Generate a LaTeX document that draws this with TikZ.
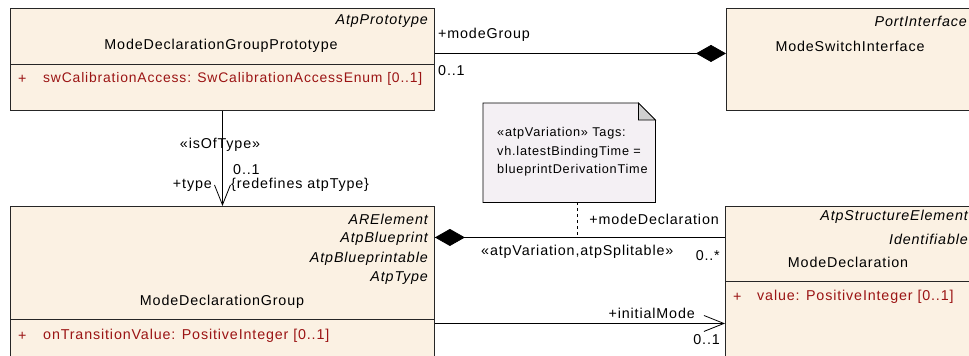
\documentclass[tikz,border=0pt]{standalone}
\usepackage{fontspec}
\setmainfont{Liberation Sans}[LetterSpace=6]
\usetikzlibrary{arrows.meta}

\definecolor{classfill}{RGB}{251,241,227}
\definecolor{notefill}{RGB}{244,240,244}
\definecolor{foldgray}{RGB}{208,208,208}
\definecolor{attrred}{RGB}{155,20,20}

\begin{document}
\begin{tikzpicture}[x=1pt,y=-1pt,
  font=\fontsize{14.3}{16}\selectfont,
  classbox/.style={draw=black!85, fill=classfill, line width=0.9pt, anchor=north west, inner sep=0pt},
  stereo/.style={font=\fontsize{14.3}{16}\selectfont\itshape, anchor=east, inner sep=0pt},
  attr/.style={text=attrred, anchor=west, inner sep=0pt},
  lbl/.style={inner sep=0pt},
  assoc/.style={line width=0.8pt},
  openhead/.style={-{Straight Barb[length=20pt,width=16pt,line width=0.8pt]}},
  comphead/.style={-{Diamond[length=30pt,width=17pt]}}]
  \useasboundingbox (0,0) rectangle (969,356);

  % classes
  \node[classbox, minimum width=424pt, minimum height=102pt] (mdgp) at (10,8) {};
  \draw[line width=0.9pt, draw=black!85] (mdgp.west |- 0,64) -- (mdgp.east |- 0,64);
  \node[stereo] (mdgp-st) at (428,21) {AtpPrototype};
  \node[lbl] (mdgp-name) at (221,46) {ModeDeclarationGroupPrototype};
  \node[attr] (mdgp-plus) at (18,79) {+};
  \node[attr, font=\fontsize{13.9}{16}\selectfont] (mdgp-attr) at (43,79) {swCalibrationAccess: SwCalibrationAccessEnum [0..1]};

  \node[classbox, minimum width=250pt, minimum height=102pt] (msi) at (726,8) {};
  \node[stereo] (msi-st) at (967,21) {PortInterface};
  \node[lbl] (msi-name) at (850,46) {ModeSwitchInterface};

  \node[classbox, minimum width=424pt, minimum height=160pt] (mdg) at (10,206) {};
  \draw[line width=0.9pt, draw=black!85] (mdg.west |- 0,319) -- (mdg.east |- 0,319);
  \node[stereo] (mdg-st1) at (428,219) {ARElement};
  \node[stereo] (mdg-st2) at (428,239) {AtpBlueprint};
  \node[stereo] (mdg-st3) at (428,259) {AtpBlueprintable};
  \node[stereo] (mdg-st4) at (428,278) {AtpType};
  \node[lbl] (mdg-name) at (222,302) {ModeDeclarationGroup};
  \node[attr] (mdg-plus) at (18,336) {+};
  \node[attr] (mdg-attr) at (43,336) {onTransitionValue: PositiveInteger [0..1]};

  \node[classbox, minimum width=250pt, minimum height=160pt] (md) at (725,206) {};
  \draw[line width=0.9pt, draw=black!85] (md.west |- 0,281) -- (md.east |- 0,281);
  \node[stereo] (md-st1) at (968,217) {AtpStructureElement};
  \node[stereo] (md-st2) at (968,239) {Identifiable};
  \node[lbl] (md-name) at (848,262) {ModeDeclaration};
  \node[attr] (md-plus) at (733,297) {+};
  \node[attr] (md-attr) at (757,297) {value: PositiveInteger [0..1]};

  % note
  \node[inner sep=0pt, minimum width=172pt, minimum height=99pt, anchor=north west] (note) at (483,103) {};
  \draw[line width=0.8pt, fill=notefill] (note.south west) -- (note.north west) -- ([xshift=-17pt]note.north east)
    -- ([yshift=-17pt]note.north east) -- (note.south east) -- cycle;
  \draw[line width=0.8pt, fill=foldgray] ([xshift=-17pt]note.north east) -- ([xshift=-17pt,yshift=-17pt]note.north east)
    -- ([yshift=-17pt]note.north east) -- cycle;
  \node[anchor=west, inner sep=0pt, align=left, font=\fontsize{12.7}{18.5}\selectfont] (note-text) at (497,152)
    {«atpVariation» Tags:\\vh.latestBindingTime =\\blueprintDerivationTime};

  % associations
  \draw[assoc, comphead] ([yshift=6pt]mdgp.east) -- ([yshift=6pt]msi.west);
  \node[lbl, anchor=west] (mg-role) at (438,35) {+modeGroup};
  \node[lbl, anchor=west] (mg-mult) at (438,71) {0..1};

  \draw[assoc, openhead] (mdgp.south) -- (mdg.north);
  \node[lbl] (iot-st) at (220,145) {«isOfType»};
  \node[lbl, anchor=west] (iot-mult) at (233,170) {0..1};
  \node[lbl, anchor=east] (iot-role) at (212,185) {+type};
  \node[lbl, anchor=west] (iot-red) at (231,185) {\{redefines atpType\}};

  \draw[assoc] ([yshift=49pt]mdg.east) -- coordinate[pos=0.491] (md-link) ([yshift=49pt]md.west);
  \draw[assoc, comphead] ([yshift=49pt]md.west) -- ([yshift=49pt]mdg.east);
  \draw[assoc, dashed] (note.south -| md-link) -- (md-link);
  \node[lbl, anchor=east] (md-role) at (719,219) {+modeDeclaration};
  \node[lbl, anchor=west] (md-st) at (481,252) {«atpVariation,atpSplitable»};
  \node[lbl, anchor=east] (md-mult) at (720,256) {0..*};

  \draw[assoc, openhead] ([yshift=-37pt]mdg.east) -- ([yshift=-37pt]md.west);
  \node[lbl, anchor=east] (im-role) at (695,313) {+initialMode};
  \node[lbl, anchor=east] (im-mult) at (720,340) {0..1};
\end{tikzpicture}
\end{document}
